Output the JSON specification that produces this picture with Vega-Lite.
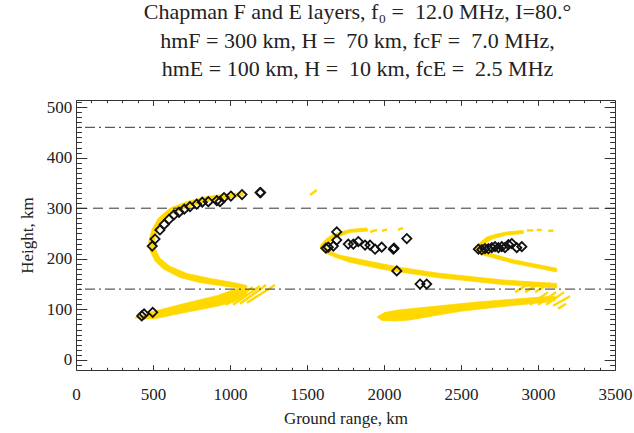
{
  "$schema": "https://vega.github.io/schema/vega-lite/v6.json",
  "width": 539,
  "height": 270,
  "autosize": {"type": "none"},
  "padding": {"left": 76, "top": 100, "right": 19, "bottom": 63},
  "background": "white",
  "title": {
    "text": ["Chapman F and E layers, f\u2080 =\u00a0 12.0 MHz, I=80.\u00b0", "hmF = 300 km, H =\u00a0 70 km, fcF =\u00a0 7.0 MHz,", "hmE = 100 km, H =\u00a0 10 km, fcE =\u00a0 2.5 MHz"],
    "font": "Liberation Serif",
    "fontSize": 22,
    "fontWeight": "normal",
    "color": "#222222",
    "lineHeight": 28.5,
    "anchor": "middle",
    "offset": 12,
    "dx": 12
  },
  "config": {
    "view": {"stroke": "#333333", "strokeWidth": 1},
    "axis": {
      "labelFont": "Liberation Serif",
      "labelFontSize": 17,
      "labelColor": "#222222",
      "titleFont": "Liberation Serif",
      "titleFontSize": 17,
      "titleFontWeight": "normal",
      "titleColor": "#222222",
      "tickColor": "#333333",
      "tickWidth": 1,
      "domain": false,
      "grid": false
    }
  },
  "datasets": {
    "yellow": [
      {"shape": "C1", "i": 0, "x": 1086, "y": 331}, {"shape": "C1", "i": 1, "x": 979, "y": 328}, {"shape": "C1", "i": 2, "x": 849, "y": 323}, {"shape": "C1", "i": 3, "x": 719, "y": 313}, {"shape": "C1", "i": 4, "x": 610, "y": 300}, {"shape": "C1", "i": 5, "x": 534, "y": 280}, {"shape": "C1", "i": 6, "x": 492, "y": 257}, {"shape": "C1", "i": 7, "x": 472, "y": 234}, {"shape": "C1", "i": 8, "x": 483, "y": 214}, {"shape": "C1", "i": 9, "x": 515, "y": 195}, {"shape": "C1", "i": 10, "x": 567, "y": 180}, {"shape": "C1", "i": 11, "x": 675, "y": 163}, {"shape": "C1", "i": 12, "x": 805, "y": 153}, {"shape": "C1", "i": 13, "x": 979, "y": 145}, {"shape": "C1", "i": 14, "x": 1109, "y": 141}, {"shape": "C1", "i": 15, "x": 1109, "y": 147}, {"shape": "C1", "i": 16, "x": 1022, "y": 153}, {"shape": "C1", "i": 17, "x": 870, "y": 161}, {"shape": "C1", "i": 18, "x": 719, "y": 171}, {"shape": "C1", "i": 19, "x": 610, "y": 185}, {"shape": "C1", "i": 20, "x": 545, "y": 201}, {"shape": "C1", "i": 21, "x": 513, "y": 221}, {"shape": "C1", "i": 22, "x": 513, "y": 244}, {"shape": "C1", "i": 23, "x": 545, "y": 267}, {"shape": "C1", "i": 24, "x": 610, "y": 287}, {"shape": "C1", "i": 25, "x": 719, "y": 302}, {"shape": "C1", "i": 26, "x": 870, "y": 314}, {"shape": "C1", "i": 27, "x": 1086, "y": 325},
      {"shape": "L1", "i": 0, "x": 383, "y": 83}, {"shape": "L1", "i": 1, "x": 481, "y": 94}, {"shape": "L1", "i": 2, "x": 697, "y": 111}, {"shape": "L1", "i": 3, "x": 914, "y": 127}, {"shape": "L1", "i": 4, "x": 1044, "y": 141}, {"shape": "L1", "i": 5, "x": 1109, "y": 140}, {"shape": "L1", "i": 6, "x": 1109, "y": 130}, {"shape": "L1", "i": 7, "x": 1022, "y": 114}, {"shape": "L1", "i": 8, "x": 914, "y": 106}, {"shape": "L1", "i": 9, "x": 697, "y": 93}, {"shape": "L1", "i": 10, "x": 502, "y": 81},
      {"shape": "C2", "i": 0, "x": 1888, "y": 261}, {"shape": "C2", "i": 1, "x": 1779, "y": 258}, {"shape": "C2", "i": 2, "x": 1671, "y": 249}, {"shape": "C2", "i": 3, "x": 1628, "y": 240}, {"shape": "C2", "i": 4, "x": 1590, "y": 228}, {"shape": "C2", "i": 5, "x": 1585, "y": 221}, {"shape": "C2", "i": 6, "x": 1611, "y": 213}, {"shape": "C2", "i": 7, "x": 1682, "y": 203}, {"shape": "C2", "i": 8, "x": 1779, "y": 193}, {"shape": "C2", "i": 9, "x": 1996, "y": 179}, {"shape": "C2", "i": 10, "x": 2342, "y": 163}, {"shape": "C2", "i": 11, "x": 2775, "y": 149}, {"shape": "C2", "i": 12, "x": 3122, "y": 142}, {"shape": "C2", "i": 13, "x": 3122, "y": 151}, {"shape": "C2", "i": 14, "x": 2775, "y": 158}, {"shape": "C2", "i": 15, "x": 2342, "y": 172}, {"shape": "C2", "i": 16, "x": 2104, "y": 183}, {"shape": "C2", "i": 17, "x": 1888, "y": 196}, {"shape": "C2", "i": 18, "x": 1714, "y": 207}, {"shape": "C2", "i": 19, "x": 1640, "y": 216}, {"shape": "C2", "i": 20, "x": 1620, "y": 223}, {"shape": "C2", "i": 21, "x": 1650, "y": 234}, {"shape": "C2", "i": 22, "x": 1700, "y": 243}, {"shape": "C2", "i": 23, "x": 1779, "y": 252}, {"shape": "C2", "i": 24, "x": 1896, "y": 255},
      {"shape": "E2", "i": 0, "x": 1955, "y": 85}, {"shape": "E2", "i": 1, "x": 2007, "y": 94}, {"shape": "E2", "i": 2, "x": 2104, "y": 99}, {"shape": "E2", "i": 3, "x": 2364, "y": 107}, {"shape": "E2", "i": 4, "x": 2624, "y": 115}, {"shape": "E2", "i": 5, "x": 2883, "y": 121}, {"shape": "E2", "i": 6, "x": 3046, "y": 125}, {"shape": "E2", "i": 7, "x": 3110, "y": 126}, {"shape": "E2", "i": 8, "x": 3110, "y": 117}, {"shape": "E2", "i": 9, "x": 3046, "y": 114}, {"shape": "E2", "i": 10, "x": 2753, "y": 105}, {"shape": "E2", "i": 11, "x": 2494, "y": 96}, {"shape": "E2", "i": 12, "x": 2299, "y": 86}, {"shape": "E2", "i": 13, "x": 2169, "y": 79}, {"shape": "E2", "i": 14, "x": 2072, "y": 77}, {"shape": "E2", "i": 15, "x": 1987, "y": 78},
      {"shape": "C3", "i": 0, "x": 2905, "y": 256}, {"shape": "C3", "i": 1, "x": 2797, "y": 253}, {"shape": "C3", "i": 2, "x": 2732, "y": 249}, {"shape": "C3", "i": 3, "x": 2667, "y": 243}, {"shape": "C3", "i": 4, "x": 2624, "y": 232}, {"shape": "C3", "i": 5, "x": 2600, "y": 220}, {"shape": "C3", "i": 6, "x": 2624, "y": 209}, {"shape": "C3", "i": 7, "x": 2840, "y": 191}, {"shape": "C3", "i": 8, "x": 3122, "y": 174}, {"shape": "C3", "i": 9, "x": 3122, "y": 181}, {"shape": "C3", "i": 10, "x": 2840, "y": 198}, {"shape": "C3", "i": 11, "x": 2650, "y": 214}, {"shape": "C3", "i": 12, "x": 2625, "y": 220}, {"shape": "C3", "i": 13, "x": 2650, "y": 229}, {"shape": "C3", "i": 14, "x": 2708, "y": 240}, {"shape": "C3", "i": 15, "x": 2797, "y": 247}, {"shape": "C3", "i": 16, "x": 2905, "y": 250}
    ],
    "hatch": [
      {"seg": "a1", "x": 974, "y": 109}, {"seg": "a1", "x": 1149, "y": 144},
      {"seg": "a2", "x": 1020, "y": 109}, {"seg": "a2", "x": 1195, "y": 146},
      {"seg": "a3", "x": 1065, "y": 111}, {"seg": "a3", "x": 1234, "y": 148},
      {"seg": "a4", "x": 1110, "y": 113}, {"seg": "a4", "x": 1292, "y": 148},
      {"seg": "d1", "x": 1520, "y": 326}, {"seg": "d1", "x": 1563, "y": 336},
      {"seg": "d2", "x": 1909, "y": 253}, {"seg": "d2", "x": 1955, "y": 257},
      {"seg": "d3", "x": 1987, "y": 255}, {"seg": "d3", "x": 2020, "y": 258},
      {"seg": "d4", "x": 2091, "y": 257}, {"seg": "d4", "x": 2124, "y": 261},
      {"seg": "d5", "x": 2927, "y": 256}, {"seg": "d5", "x": 2970, "y": 256},
      {"seg": "d6", "x": 2992, "y": 257}, {"seg": "d6", "x": 3024, "y": 257},
      {"seg": "d7", "x": 3067, "y": 255}, {"seg": "d7", "x": 3100, "y": 256},
      {"seg": "b1", "x": 2851, "y": 134}, {"seg": "b1", "x": 2948, "y": 152},
      {"seg": "b2", "x": 2916, "y": 134}, {"seg": "b2", "x": 3013, "y": 152},
      {"seg": "b3", "x": 2981, "y": 134}, {"seg": "b3", "x": 3078, "y": 152},
      {"seg": "b4", "x": 2948, "y": 109}, {"seg": "b4", "x": 3065, "y": 134},
      {"seg": "b5", "x": 3000, "y": 109}, {"seg": "b5", "x": 3117, "y": 134},
      {"seg": "b6", "x": 3052, "y": 109}, {"seg": "b6", "x": 3169, "y": 134},
      {"seg": "b7", "x": 3098, "y": 107}, {"seg": "b7", "x": 3208, "y": 126},
      {"seg": "b8", "x": 3130, "y": 101}, {"seg": "b8", "x": 3182, "y": 111}
    ],
    "diamonds": [
      {"x": 427, "y": 87}, {"x": 442, "y": 91}, {"x": 498, "y": 94},
      {"x": 495, "y": 225}, {"x": 513, "y": 239}, {"x": 545, "y": 257}, {"x": 573, "y": 268}, {"x": 604, "y": 278}, {"x": 636, "y": 287}, {"x": 669, "y": 292}, {"x": 703, "y": 298}, {"x": 740, "y": 303}, {"x": 784, "y": 308}, {"x": 820, "y": 312}, {"x": 859, "y": 313}, {"x": 914, "y": 315}, {"x": 935, "y": 313}, {"x": 961, "y": 321}, {"x": 1006, "y": 324}, {"x": 1078, "y": 327}, {"x": 1195, "y": 331}, {"x": 1199, "y": 331},
      {"x": 1623, "y": 221}, {"x": 1638, "y": 223}, {"x": 1671, "y": 225}, {"x": 1693, "y": 253}, {"x": 1693, "y": 237}, {"x": 1768, "y": 229}, {"x": 1801, "y": 229}, {"x": 1833, "y": 234}, {"x": 1877, "y": 227}, {"x": 1909, "y": 227}, {"x": 1942, "y": 219}, {"x": 1985, "y": 223}, {"x": 2061, "y": 219}, {"x": 2065, "y": 221}, {"x": 2083, "y": 176}, {"x": 2148, "y": 240}, {"x": 2234, "y": 150}, {"x": 2277, "y": 150},
      {"x": 2613, "y": 219}, {"x": 2635, "y": 218}, {"x": 2656, "y": 220}, {"x": 2678, "y": 220}, {"x": 2700, "y": 222}, {"x": 2721, "y": 224}, {"x": 2743, "y": 222}, {"x": 2765, "y": 224}, {"x": 2786, "y": 222}, {"x": 2808, "y": 228}, {"x": 2830, "y": 230}, {"x": 2862, "y": 222}, {"x": 2895, "y": 224}
    ]
  },
  "layer": [
    {
      "data": {"name": "yellow"},
      "mark": {"type": "line", "interpolate": "linear-closed", "fill": "#FFD800", "stroke": "#FFD800", "strokeWidth": 0.8},
      "encoding": {
        "x": {"field": "x", "type": "quantitative", "scale": {"domain": [0, 3500], "nice": false, "zero": false},
          "axis": {"orient": "bottom", "title": "Ground range, km", "values": [0,100,200,300,400,500,600,700,800,900,1000,1100,1200,1300,1400,1500,1600,1700,1800,1900,2000,2100,2200,2300,2400,2500,2600,2700,2800,2900,3000,3100,3200,3300,3400,3500],
            "format": "d", "labelExpr": "datum.value % 500 === 0 ? datum.label : ''",
            "labelFont": "Liberation Serif", "titleFont": "Liberation Serif",
            "tickSize": {"condition": {"test": "datum.value % 500 === 0", "value": -5.4}, "value": -2.7},
            "labelPadding": 22, "labelFlush": false, "labelOverlap": false, "titlePadding": 5}},
        "y": {"field": "y", "type": "quantitative", "scale": {"domain": [-20, 514], "nice": false, "zero": false},
          "axis": {"orient": "left", "title": "Height, km", "values": [-10,0,10,20,30,40,50,60,70,80,90,100,110,120,130,140,150,160,170,180,190,200,210,220,230,240,250,260,270,280,290,300,310,320,330,340,350,360,370,380,390,400,410,420,430,440,450,460,470,480,490,500,510],
            "format": "d", "labelExpr": "datum.value % 100 === 0 && datum.value >= 0 ? datum.label : ''",
            "labelFont": "Liberation Serif", "titleFont": "Liberation Serif",
            "tickSize": {"condition": {"test": "datum.value % 100 === 0", "value": -10.8}, "value": -5.4},
            "labelPadding": 15, "labelFlush": false, "labelOverlap": false, "titlePadding": 10}},
        "detail": {"field": "shape"},
        "order": {"field": "i", "type": "quantitative"}
      }
    },
    {
      "data": {"name": "hatch"},
      "mark": {"type": "line", "stroke": "#FFD800", "strokeWidth": 2.4, "strokeCap": "butt"},
      "encoding": {
        "x": {"field": "x", "type": "quantitative", "axis": null},
        "y": {"field": "y", "type": "quantitative", "axis": null},
        "detail": {"field": "seg"}
      }
    },
    {
      "data": {"values": [{}]},
      "mark": {"type": "rule", "stroke": "#333333", "strokeWidth": 1, "strokeDash": [10, 6]},
      "encoding": {"y": {"datum": 300, "type": "quantitative", "axis": null}}
    },
    {
      "data": {"values": [{}]},
      "mark": {"type": "rule", "stroke": "#333333", "strokeWidth": 1, "strokeDash": [10, 4, 2, 4]},
      "encoding": {"y": {"datum": 140, "type": "quantitative", "axis": null}}
    },
    {
      "data": {"values": [{}]},
      "mark": {"type": "rule", "stroke": "#333333", "strokeWidth": 1, "strokeDash": [10, 4, 2, 4]},
      "encoding": {"y": {"datum": 460, "type": "quantitative", "axis": null}}
    },
    {
      "data": {"name": "diamonds"},
      "mark": {"type": "point", "shape": "diamond", "filled": false, "stroke": "#111111", "strokeWidth": 1.8, "size": 85, "opacity": 1},
      "encoding": {
        "x": {"field": "x", "type": "quantitative",
          "axis": {"orient": "top", "title": null, "labels": false, "values": [0,100,200,300,400,500,600,700,800,900,1000,1100,1200,1300,1400,1500,1600,1700,1800,1900,2000,2100,2200,2300,2400,2500,2600,2700,2800,2900,3000,3100,3200,3300,3400,3500],
            "tickSize": {"condition": {"test": "datum.value % 500 === 0", "value": -5.4}, "value": -2.7}}},
        "y": {"field": "y", "type": "quantitative",
          "axis": {"orient": "right", "title": null, "labels": false, "values": [-10,0,10,20,30,40,50,60,70,80,90,100,110,120,130,140,150,160,170,180,190,200,210,220,230,240,250,260,270,280,290,300,310,320,330,340,350,360,370,380,390,400,410,420,430,440,450,460,470,480,490,500,510],
            "tickSize": {"condition": {"test": "datum.value % 100 === 0", "value": -10.8}, "value": -5.4}}}
      }
    }
  ],
  "resolve": {"axis": {"x": "independent", "y": "independent"}}
}
